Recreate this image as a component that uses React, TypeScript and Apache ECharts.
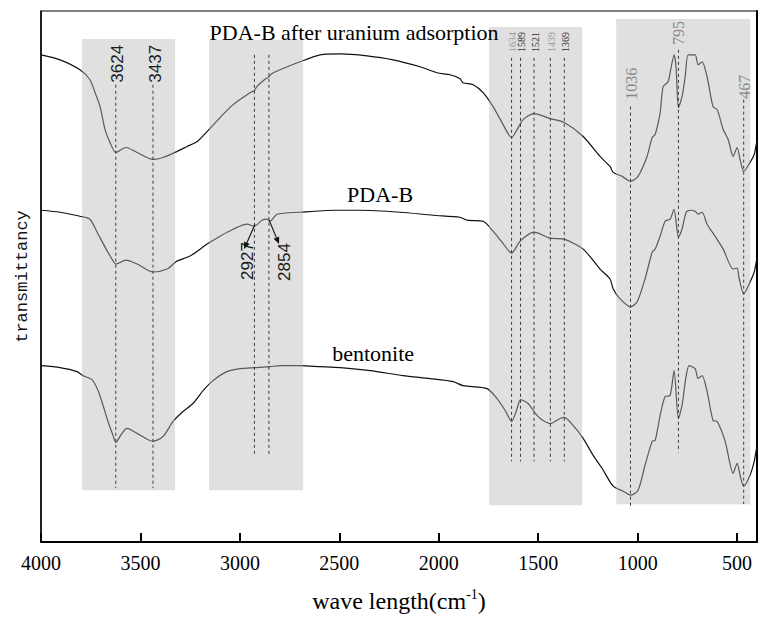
import React, { useEffect, useRef } from 'react';
import * as echarts from 'echarts';

// ---------- data ----------
const xTicks = [4000, 3500, 3000, 2500, 2000, 1500, 1000, 500];

const seriesNames = ['PDA-B after uranium adsorption', 'PDA-B', 'bentonite'];

// [wave number (cm-1), transmittance (a.u., offset stacked)]
const afterUranium: [number, number][] = [
  [4000, 489], [3904, 484], [3804, 474], [3754, 464], [3728, 451], [3703, 437], [3678, 414],
  [3653, 401], [3624, 391], [3573, 396], [3517, 391], [3437, 384], [3386, 386], [3316, 392],
  [3266, 397], [3215, 402], [3165, 412], [3100, 426], [3034, 439], [2964, 449], [2940, 452],
  [2927, 453], [2915, 457], [2889, 462], [2870, 465], [2854, 467], [2840, 470], [2798, 474],
  [2698, 482], [2597, 489], [2496, 490], [2361, 488], [2230, 484], [2094, 477], [2009, 471],
  [1943, 469], [1893, 465], [1878, 461], [1827, 459], [1777, 451], [1727, 437], [1682, 421],
  [1634, 406], [1606, 414], [1576, 424], [1521, 430], [1440, 425], [1369, 421], [1274, 407],
  [1189, 387], [1139, 377], [1123, 371], [1078, 367], [1036, 362], [998, 367], [953, 387],
  [927, 406], [912, 409], [887, 431], [872, 457], [847, 462], [837, 471], [817, 489],
  [807, 477], [795, 436], [777, 447], [761, 467], [746, 489], [711, 489], [696, 479],
  [676, 482], [651, 467], [621, 437], [600, 434], [570, 414], [545, 404], [520, 387],
  [500, 396], [485, 384], [467, 372], [435, 381], [414, 389], [404, 399], [400, 403],
];

const pdaB: [number, number][] = [
  [4000, 333], [3904, 331], [3804, 327], [3754, 324], [3718, 311], [3678, 296], [3643, 284],
  [3624, 279], [3573, 283], [3517, 279], [3437, 271], [3366, 274], [3316, 282], [3251, 287],
  [3165, 299], [3100, 307], [3034, 314], [2964, 319], [2927, 317], [2889, 323], [2863, 324],
  [2848, 322], [2813, 329], [2698, 331], [2532, 333], [2396, 333], [2195, 331], [2029, 328],
  [1893, 326], [1858, 323], [1777, 322], [1727, 312], [1682, 301], [1634, 290], [1591, 302],
  [1521, 311], [1440, 305], [1369, 304], [1274, 294], [1189, 274], [1139, 264], [1123, 254],
  [1088, 244], [1036, 236], [1003, 241], [963, 264], [927, 291], [912, 294], [887, 307],
  [862, 322], [837, 324], [817, 334], [795, 306], [777, 314], [756, 331], [736, 333],
  [711, 332], [696, 329], [676, 331], [651, 319], [611, 307], [570, 294], [520, 274],
  [500, 275], [490, 265], [467, 249], [435, 261], [414, 271], [404, 281], [400, 285],
];

const bentonite: [number, number][] = [
  [4000, 177], [3904, 175], [3819, 171], [3789, 167], [3744, 163], [3713, 152], [3688, 137],
  [3663, 121], [3638, 107], [3624, 100], [3593, 109], [3568, 114], [3517, 109], [3437, 101],
  [3386, 106], [3336, 121], [3286, 131], [3236, 139], [3185, 152], [3135, 162], [3065, 171],
  [2999, 174], [2924, 175], [2848, 176], [2798, 177], [2698, 177], [2597, 176], [2496, 175],
  [2345, 172], [2180, 167], [2044, 164], [1928, 161], [1878, 157], [1757, 154], [1707, 144],
  [1666, 132], [1634, 121], [1606, 134], [1589, 143], [1551, 139], [1506, 127], [1476, 122],
  [1439, 119], [1390, 124], [1369, 125], [1325, 117], [1274, 104], [1224, 87], [1179, 74],
  [1123, 56], [1073, 51], [1036, 47], [998, 52], [963, 77], [927, 101], [912, 102],
  [887, 127], [862, 146], [837, 147], [817, 172], [795, 124], [777, 137], [756, 167],
  [741, 177], [711, 174], [696, 164], [676, 167], [651, 151], [621, 122], [600, 121],
  [560, 101], [520, 69], [500, 79], [485, 67], [467, 56], [435, 67], [414, 81], [404, 92],
  [400, 96],
];

const peakWaves = [3624, 3437, 2927, 2854, 1634, 1589, 1521, 1439, 1369, 1036, 795, 467];
const peakLabels = ['3624', '3437', '2927', '2854', '1634', '1589', '1521', '1439', '1369', '1036', '795', '467'];

// shaded bands [from, to] in cm-1
const bandRanges: [number, number][] = [[3794, 3326], [3155, 2682], [1747, 1279], [1108, 434]];

// ---------- layout (annotation placement in data space) ----------
const bandVTop = [505, 504, 517, 525];
const bandVBottom = [52, 52, 37, 38];

const SANS = 'Liberation Sans';
const SERIF = 'Liberation Serif';
const SERIF_STACK = "'Liberation Serif', 'Times New Roman', serif";
const peakLayout = [
  { top: 459, bottom: 54, labelV: 480, dx: 2, size: 17, family: SANS, color: '#1a1a1a' },
  { top: 459, bottom: 54, labelV: 480, dx: 3, size: 17, family: SANS, color: '#1a1a1a' },
  { top: 489, bottom: 87, labelV: 282, dx: -7, size: 17, family: SANS, color: '#1a1a1a' },
  { top: 489, bottom: 87, labelV: 281, dx: 16, size: 17, family: SANS, color: '#1a1a1a' },
  { top: 486, bottom: 81, labelV: 502, dx: 1, size: 10, family: SERIF, color: '#999' },
  { top: 486, bottom: 81, labelV: 502, dx: 1, size: 10, family: SERIF, color: '#333' },
  { top: 486, bottom: 81, labelV: 502, dx: 1, size: 10, family: SERIF, color: '#333' },
  { top: 486, bottom: 81, labelV: 502, dx: 1, size: 10, family: SERIF, color: '#999' },
  { top: 486, bottom: 81, labelV: 502, dx: 1, size: 10, family: SERIF, color: '#333' },
  { top: 437, bottom: 34, labelV: 460, dx: 1, size: 16, family: SERIF, color: '#888' },
  { top: 494, bottom: 90, labelV: 511, dx: 0, size: 16, family: SERIF, color: '#888' },
  { top: 444, bottom: 38, labelV: 457, dx: 1, size: 16, family: SERIF, color: '#888' },
];

const arrowLayout: [number, number, number, number][] = [
  [2924, 319, 2979, 294],
  [2853, 323, 2803, 299],
];

const nameLayout: [number, number][] = [[2426, 511], [2295, 349], [2330, 189]];
const tickLabelV = -21; // tick label centre, below the axis (data units)

export default function App() {
  const ref = useRef<HTMLDivElement>(null);

  useEffect(() => {
    if (!ref.current) return;
    const chart = echarts.init(ref.current, null, { renderer: 'svg' });

    const curveStyle = { color: '#111', width: 1.2 };
    const curves = [afterUranium, pdaB, bentonite].map((d, i) => ({
      type: 'line',
      name: seriesNames[i],
      data: d,
      showSymbol: false,
      symbol: 'none',
      smooth: 0.25,
      lineStyle: curveStyle,
      z: 2,
      silent: true,
    }));

    const option: any = {
      animation: false,
      backgroundColor: '#fff',
      textStyle: { fontFamily: SERIF_STACK },
      grid: { left: 41, right: 3, top: 11, bottom: 74, show: true, borderColor: '#000', borderWidth: 1, backgroundColor: 'transparent' },
      xAxis: {
        type: 'value',
        min: 400,
        max: 4000,
        inverse: true,
        axisLine: { show: true, onZero: false, lineStyle: { color: '#000', width: 2 } },
        axisTick: { show: true, inside: true, length: 9, customValues: xTicks, lineStyle: { color: '#000', width: 2 } },
        axisLabel: { show: false },
        splitLine: { show: false },
        name: '{n|wave length(cm}{sup|-1}{n|)}',
        nameLocation: 'middle',
        nameGap: 45,
        nameTextStyle: {
          rich: {
            n: { fontFamily: SERIF, fontSize: 24, color: '#000', lineHeight: 28 },
            sup: { fontFamily: SERIF, fontSize: 14, color: '#000', lineHeight: 15, verticalAlign: 'top' },
          },
        },
      },
      yAxis: [
        {
          type: 'value',
          min: 0,
          max: 533,
          axisLine: { show: true, lineStyle: { color: '#000', width: 1.5 } },
          axisTick: { show: false },
          axisLabel: { show: false },
          splitLine: { show: false },
          name: 'transmittancy',
          nameLocation: 'middle',
          nameRotate: 90,
          nameGap: 10,
          nameTextStyle: { fontFamily: 'Liberation Mono', fontSize: 17, color: '#111' },
        },
        {
          type: 'value',
          position: 'right',
          min: 0,
          max: 533,
          axisLine: { show: true, lineStyle: { color: '#000', width: 2 } },
          axisTick: { show: false },
          axisLabel: { show: false },
          splitLine: { show: false },
        },
      ],
      series: [
        ...curves,
        {
          type: 'custom',
          z: 3,
          silent: true,
          data: bandRanges.map((r, i) => [r[0], bandVTop[i], i]),
          renderItem: (params: any, api: any) => {
            const i = params.dataIndex;
            const p1 = api.coord([bandRanges[i][0], bandVTop[i]]);
            const p2 = api.coord([bandRanges[i][1], bandVBottom[i]]);
            return {
              type: 'rect',
              shape: { x: Math.min(p1[0], p2[0]), y: Math.min(p1[1], p2[1]), width: Math.abs(p2[0] - p1[0]), height: Math.abs(p2[1] - p1[1]) },
              style: { fill: 'rgba(184,184,184,0.44)' },
            };
          },
        },
        {
          type: 'custom',
          z: 4,
          silent: true,
          data: peakWaves.map((w, i) => [w, peakLayout[i].labelV, i]),
          renderItem: (params: any, api: any) => {
            const i = params.dataIndex;
            const w = peakWaves[i];
            const L = peakLayout[i];
            const t = api.coord([w, L.top]);
            const b = api.coord([w, L.bottom]);
            const lab = api.coord([w, L.labelV]);
            return {
              type: 'group',
              children: [
                {
                  type: 'line',
                  shape: { x1: t[0], y1: t[1], x2: b[0], y2: b[1] },
                  style: { stroke: '#3a3a3a', lineWidth: 1, lineDash: [3, 3] },
                },
                {
                  type: 'text',
                  x: lab[0] + L.dx,
                  y: lab[1],
                  rotation: Math.PI / 2,
                  style: {
                    text: peakLabels[i],
                    fill: L.color,
                    fontSize: L.size,
                    fontFamily: L.family,
                    align: 'center',
                    verticalAlign: 'middle',
                  },
                },
              ],
            };
          },
        },
        {
          type: 'custom',
          z: 5,
          silent: true,
          data: arrowLayout.map((a, i) => [a[0], a[1], i]),
          renderItem: (params: any, api: any) => {
            const a = arrowLayout[params.dataIndex];
            const s = api.coord([a[0], a[1]]);
            const e = api.coord([a[2], a[3]]);
            const ang = Math.atan2(e[1] - s[1], e[0] - s[0]);
            const hl = 7;
            const hw = 3;
            const bx = e[0] - hl * Math.cos(ang);
            const by = e[1] - hl * Math.sin(ang);
            const px = -Math.sin(ang) * hw;
            const py = Math.cos(ang) * hw;
            return {
              type: 'group',
              children: [
                { type: 'line', shape: { x1: s[0], y1: s[1], x2: bx, y2: by }, style: { stroke: '#111', lineWidth: 1.1 } },
                { type: 'polygon', shape: { points: [[e[0], e[1]], [bx + px, by + py], [bx - px, by - py]] }, style: { fill: '#111' } },
              ],
            };
          },
        },
        {
          type: 'custom',
          z: 5,
          silent: true,
          data: nameLayout.map((p, i) => [p[0], p[1], i]),
          renderItem: (params: any, api: any) => {
            const i = params.dataIndex;
            const p = api.coord(nameLayout[i]);
            return {
              type: 'text',
              x: p[0],
              y: p[1],
              style: {
                text: seriesNames[i],
                fill: '#000',
                fontSize: 22,
                fontFamily: SERIF,
                align: 'center',
                verticalAlign: 'middle',
              },
            };
          },
        },
        {
          // x-axis tick labels (serif), placed at each tick value below the axis
          type: 'custom',
          z: 5,
          silent: true,
          clip: false,
          data: xTicks.map((t, i) => [t, tickLabelV, i]),
          renderItem: (params: any, api: any) => {
            const i = params.dataIndex;
            const p = api.coord([xTicks[i], tickLabelV]);
            return {
              type: 'text',
              x: p[0],
              y: p[1],
              style: {
                text: String(xTicks[i]),
                fill: '#000',
                fontSize: 20,
                fontFamily: SERIF,
                align: 'center',
                verticalAlign: 'middle',
              },
            };
          },
        },
      ],
    };

    chart.setOption(option);
    return () => chart.dispose();
  }, []);

  return <div ref={ref} style={{ position: 'absolute', left: 0, top: 0, width: 760, height: 618 }} />;
}
